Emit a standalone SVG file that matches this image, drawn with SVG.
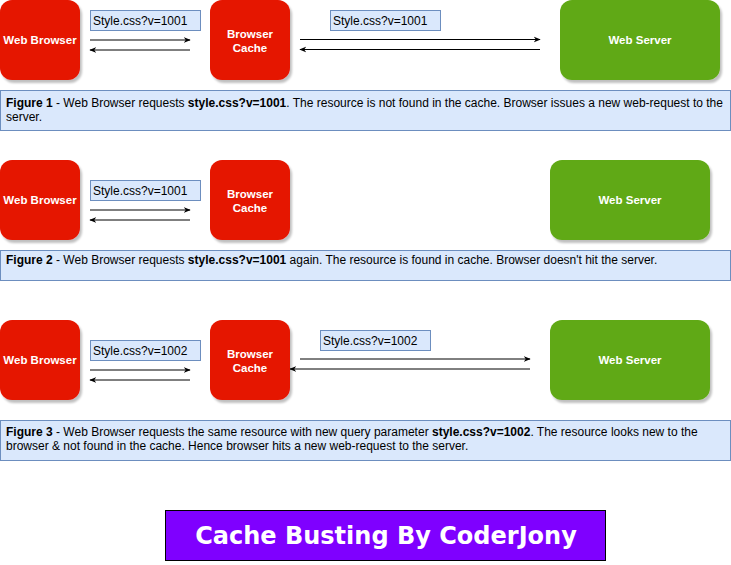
<svg xmlns="http://www.w3.org/2000/svg" width="731" height="565" viewBox="0 0 731 565">
<defs>
<filter id="sh" x="-10%" y="-10%" width="130%" height="130%">
<feGaussianBlur in="SourceAlpha" stdDeviation="1"/>
<feOffset dx="2" dy="3" result="o"/>
<feComponentTransfer><feFuncA type="linear" slope="0.25"/></feComponentTransfer>
<feMerge><feMergeNode/><feMergeNode in="SourceGraphic"/></feMerge>
</filter>
<marker id="ah" viewBox="0 0 10 10" refX="9" refY="5" markerWidth="7" markerHeight="7" markerUnits="userSpaceOnUse" orient="auto">
<path d="M0,1 L10,5 L0,9 L3,5 Z" fill="#000"/>
</marker>
</defs>
<style>
.red{fill:#e51400;}
.green{fill:#60a917;}
.nt{font-family:"Liberation Sans",Arial,sans-serif;font-size:11.5px;font-weight:bold;fill:#fff;text-anchor:middle;}
.lbl{fill:#dae8fc;stroke:#6c8ebf;stroke-width:1;}
.lt{font-family:"Liberation Sans",Arial,sans-serif;font-size:12px;fill:#000;}
.ct{font-family:"Liberation Sans",Arial,sans-serif;font-size:12px;fill:#000;}
.ct tspan.b{font-weight:bold;}
.ar{stroke:#000;stroke-width:1;fill:none;marker-end:url(#ah);}
.title{font-family:"DejaVu Sans",Verdana,sans-serif;font-size:24px;font-weight:bold;fill:#fff;text-anchor:middle;}
</style>

<g id="connectors">
<line class="ar" x1="90" y1="40" x2="190" y2="40"/>
<line class="ar" x1="190" y1="50" x2="90" y2="50"/>
<line class="ar" x1="300" y1="39.5" x2="540" y2="39.5"/>
<line class="ar" x1="540" y1="49.5" x2="300" y2="49.5"/>
<line class="ar" x1="90" y1="210" x2="190" y2="210"/>
<line class="ar" x1="190" y1="220" x2="90" y2="220"/>
<line class="ar" x1="90" y1="370" x2="190" y2="370"/>
<line class="ar" x1="190" y1="380" x2="90" y2="380"/>
<line class="ar" x1="300" y1="359" x2="530" y2="359"/>
<line class="ar" x1="530" y1="369" x2="290" y2="369"/>
</g>

<g id="browser1"><rect class="red" x="0" y="0" width="80" height="80" rx="12" filter="url(#sh)"/><text class="nt" x="40" y="44">Web Browser</text></g>
<g id="cache1"><rect class="red" x="210" y="0" width="80" height="80" rx="12" filter="url(#sh)"/><text class="nt" x="250" y="38">Browser</text><text class="nt" x="250" y="52">Cache</text></g>
<g id="server1"><rect class="green" x="560" y="0" width="160" height="80" rx="12" filter="url(#sh)"/><text class="nt" x="640" y="44">Web Server</text></g>
<g id="label1a"><rect class="lbl" x="90.5" y="10.5" width="110" height="20"/><text class="lt" x="93" y="25">Style.css?v=1001</text></g>
<g id="label1b"><rect class="lbl" x="330.5" y="10.5" width="110" height="20"/><text class="lt" x="333" y="25">Style.css?v=1001</text></g>
<g id="caption1"><rect class="lbl" x="0.5" y="90.5" width="730" height="40"/>
<text class="ct" x="6" y="107"><tspan class="b">Figure 1</tspan> - Web Browser requests <tspan class="b">style.css?v=1001</tspan>. The resource is not found in the cache. Browser issues a new web-request to the</text>
<text class="ct" x="6" y="121">server.</text></g>

<g id="browser2"><rect class="red" x="0" y="160" width="80" height="80" rx="12" filter="url(#sh)"/><text class="nt" x="40" y="204">Web Browser</text></g>
<g id="cache2"><rect class="red" x="210" y="160" width="80" height="80" rx="12" filter="url(#sh)"/><text class="nt" x="250" y="198">Browser</text><text class="nt" x="250" y="212">Cache</text></g>
<g id="server2"><rect class="green" x="550" y="160" width="160" height="80" rx="12" filter="url(#sh)"/><text class="nt" x="630" y="204">Web Server</text></g>
<g id="label2"><rect class="lbl" x="90.5" y="180.5" width="110" height="20"/><text class="lt" x="93" y="195">Style.css?v=1001</text></g>
<g id="caption2"><rect class="lbl" x="0.5" y="250.5" width="730" height="30"/>
<text class="ct" x="6" y="264"><tspan class="b">Figure 2</tspan> - Web Browser requests <tspan class="b">style.css?v=1001</tspan> again. The resource is found in cache. Browser doesn't hit the server.</text></g>

<g id="browser3"><rect class="red" x="0" y="320" width="80" height="80" rx="12" filter="url(#sh)"/><text class="nt" x="40" y="364">Web Browser</text></g>
<g id="cache3"><rect class="red" x="210" y="320" width="80" height="80" rx="12" filter="url(#sh)"/><text class="nt" x="250" y="358">Browser</text><text class="nt" x="250" y="372">Cache</text></g>
<g id="server3"><rect class="green" x="550" y="320" width="160" height="80" rx="12" filter="url(#sh)"/><text class="nt" x="630" y="364">Web Server</text></g>
<g id="label3a"><rect class="lbl" x="90.5" y="340.5" width="110" height="20"/><text class="lt" x="93" y="355">Style.css?v=1002</text></g>
<g id="label3b"><rect class="lbl" x="320.5" y="330.5" width="110" height="20"/><text class="lt" x="323" y="345">Style.css?v=1002</text></g>
<g id="caption3"><rect class="lbl" x="0.5" y="420.5" width="730" height="40"/>
<text class="ct" x="6" y="436"><tspan class="b">Figure 3</tspan> - Web Browser requests the same resource with new query parameter <tspan class="b">style.css?v=1002</tspan>. The resource looks new to the</text>
<text class="ct" x="6" y="450">browser &amp; not found in the cache. Hence browser hits a new web-request to the server.</text></g>

<g id="title"><rect x="165.5" y="510.5" width="440" height="50" fill="#7f00ff" stroke="#000" stroke-width="1"/><text class="title" x="386" y="544">Cache Busting By CoderJony</text></g>
</svg>
